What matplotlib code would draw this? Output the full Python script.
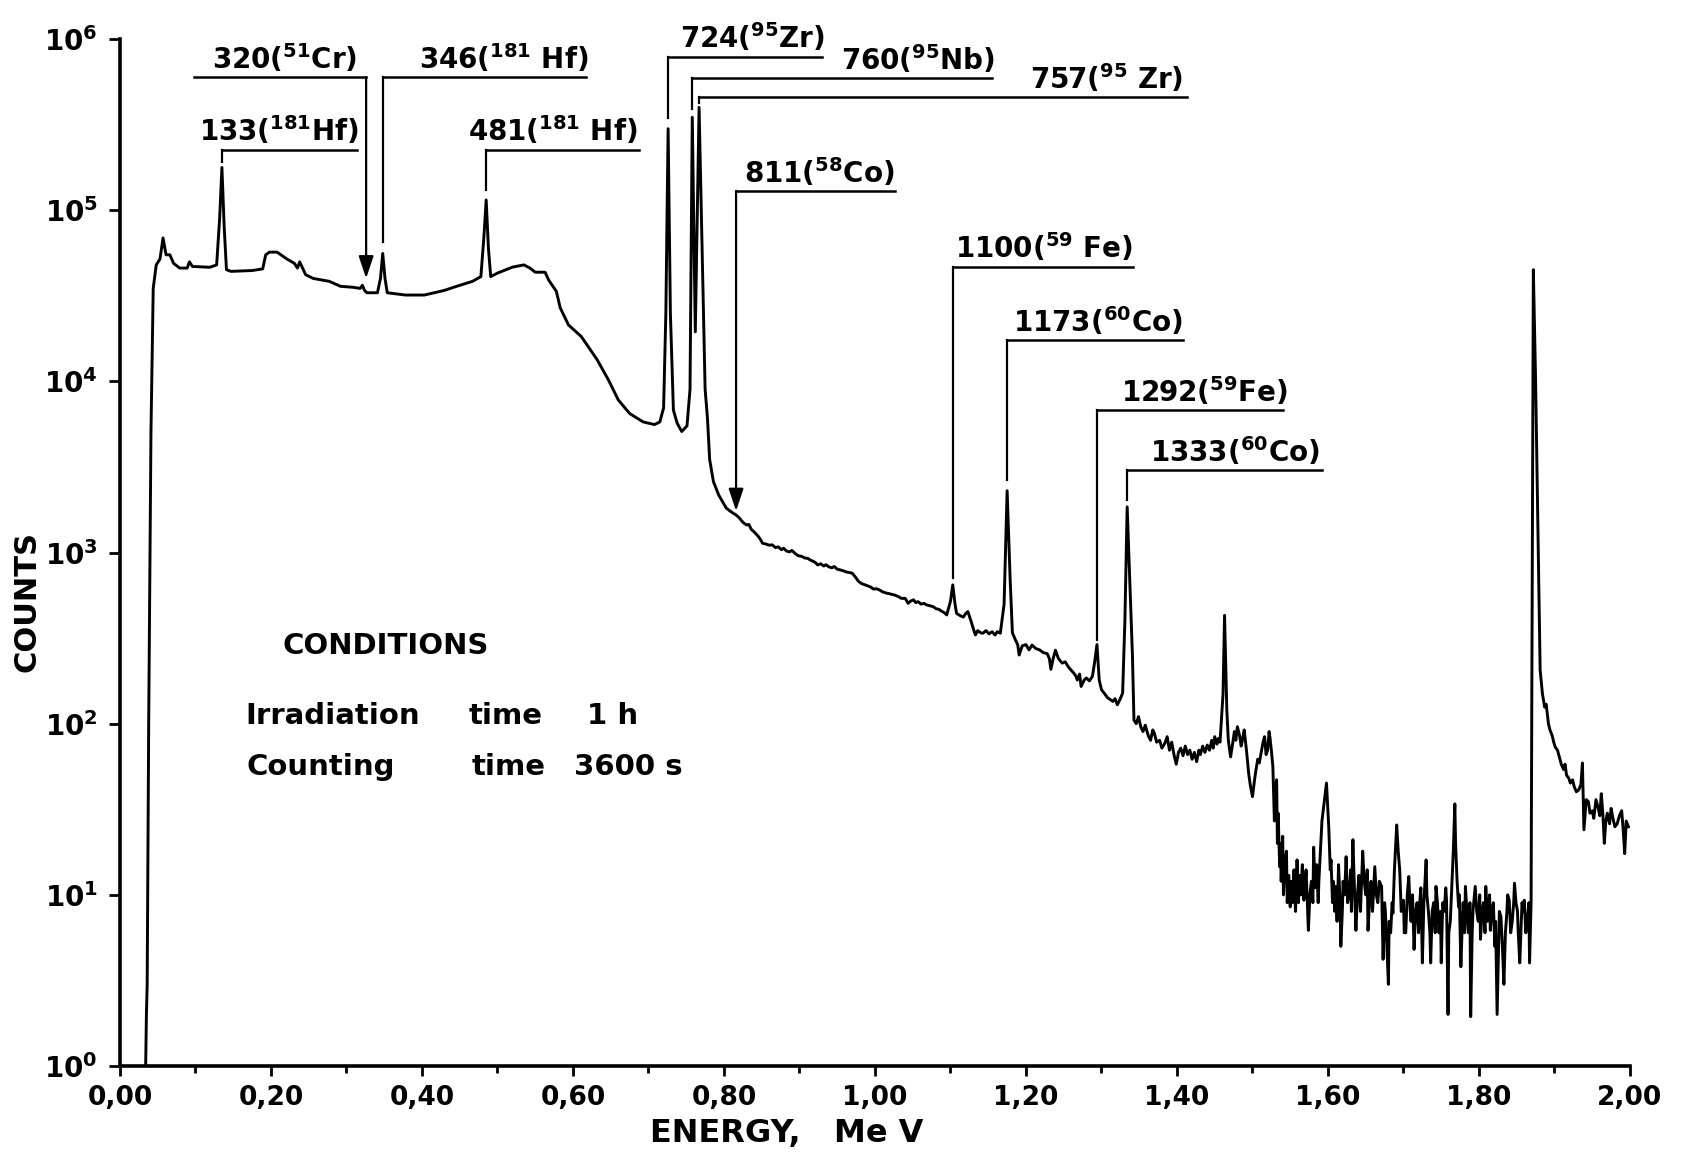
import matplotlib
matplotlib.use("Agg")
import matplotlib.pyplot as plt

plt.rcParams["font.family"] = "DejaVu Sans"
plt.rcParams["font.weight"] = "bold"
plt.rcParams["mathtext.fontset"] = "dejavusans"

# gamma spectrum (energy in MeV, counts per channel)
# 0.03 - 0.80 MeV
energy_low = [
    0.034, 0.035, 0.036, 0.038, 0.041, 0.044, 0.048, 0.053, 0.057, 0.061,
    0.066, 0.071, 0.079, 0.089, 0.092, 0.096, 0.119, 0.128, 0.132, 0.135,
    0.138, 0.141, 0.147, 0.175, 0.189, 0.193, 0.198, 0.208, 0.221, 0.231,
    0.235, 0.238, 0.246, 0.256, 0.277, 0.292, 0.309, 0.318, 0.321, 0.324,
    0.327, 0.341, 0.345, 0.348, 0.351, 0.354, 0.378, 0.403, 0.429, 0.446,
    0.467, 0.478, 0.482, 0.485, 0.488, 0.491, 0.500, 0.520, 0.535, 0.543,
    0.550, 0.563, 0.568, 0.578, 0.583, 0.594, 0.611, 0.632, 0.647, 0.660,
    0.675, 0.693, 0.708, 0.715, 0.720, 0.723, 0.726, 0.729, 0.733, 0.738,
    0.744, 0.751, 0.755, 0.758, 0.762, 0.767, 0.771, 0.775, 0.778, 0.781,
    0.786, 0.793,
]
counts_low = [
    1.0, 2.0, 3.0, 100, 5000, 35000, 48000, 52000, 69000, 55000,
    55000, 49000, 46000, 46000, 50000, 47000, 46500, 48000, 90000, 178000,
    80000, 45000, 44000, 44500, 45500, 55000, 57000, 57000, 52000, 49000,
    46000, 50000, 42000, 40000, 38500, 36000, 35500, 35000, 36500, 34000,
    33000, 33000, 40000, 56000, 40000, 33000, 32000, 32000, 34000, 36000,
    38500, 41000, 70000, 115000, 60000, 41000, 43000, 46600, 48000, 46000,
    43500, 43500, 39000, 33600, 27000, 21400, 18300, 13400, 10200, 7800,
    6500, 5800, 5600, 5800, 7000, 25000, 300000, 25000, 6800, 5700,
    5100, 5500, 9000, 350000, 19500, 400000, 60000, 9000, 6200, 3500,
    2600, 2170,
]

# 0.80 - 1.53 MeV
energy_mid = [
    0.803, 0.808, 0.812, 0.816, 0.820, 0.823, 0.826, 0.830, 0.833, 0.836,
    0.840, 0.845, 0.848, 0.851, 0.856, 0.860, 0.864, 0.868, 0.872, 0.876,
    0.879, 0.883, 0.887, 0.890, 0.894, 0.898, 0.903, 0.907, 0.911, 0.914,
    0.918, 0.921, 0.924, 0.928, 0.932, 0.935, 0.939, 0.943, 0.946, 0.950,
    0.955, 0.959, 0.962, 0.966, 0.970, 0.974, 0.978, 0.982, 0.986, 0.990,
    0.994, 0.998, 1.002, 1.006, 1.010, 1.015, 1.019, 1.022, 1.026, 1.031,
    1.035, 1.040, 1.044, 1.047, 1.051, 1.054, 1.057, 1.061, 1.065, 1.068,
    1.072, 1.077, 1.081, 1.085, 1.088, 1.092, 1.095, 1.100, 1.103, 1.106,
    1.108, 1.112, 1.117, 1.120, 1.123, 1.127, 1.130, 1.133, 1.136, 1.140,
    1.143, 1.147, 1.151, 1.155, 1.159, 1.162, 1.166, 1.171, 1.175, 1.179,
    1.182, 1.186, 1.189, 1.191, 1.195, 1.200, 1.204, 1.208, 1.213, 1.218,
    1.223, 1.228, 1.231, 1.233, 1.236, 1.239, 1.243, 1.248, 1.252, 1.256,
    1.260, 1.263, 1.266, 1.268, 1.271, 1.273, 1.277, 1.280, 1.284, 1.288,
    1.291, 1.294, 1.297, 1.300, 1.304, 1.308, 1.312, 1.315, 1.318, 1.321,
    1.325, 1.328, 1.331, 1.334, 1.338, 1.341, 1.343, 1.346, 1.349, 1.352,
    1.355, 1.358, 1.362, 1.365, 1.368, 1.370, 1.373, 1.377, 1.380, 1.384,
    1.387, 1.390, 1.393, 1.396, 1.399, 1.402, 1.405, 1.408, 1.411, 1.414,
    1.417, 1.420, 1.423, 1.426, 1.429, 1.431, 1.434, 1.437, 1.440, 1.443,
    1.446, 1.448, 1.450, 1.453, 1.455, 1.457, 1.461, 1.463, 1.466, 1.468,
    1.471, 1.474, 1.476, 1.478, 1.480, 1.483, 1.485, 1.487, 1.489, 1.492,
    1.495, 1.497, 1.500, 1.503, 1.505, 1.507, 1.509, 1.512, 1.514, 1.516,
    1.518, 1.520, 1.522, 1.523, 1.525, 1.527,
]
counts_mid = [
    1820, 1750, 1700, 1660, 1600, 1540, 1490, 1450, 1460, 1370,
    1320, 1250, 1200, 1135, 1120, 1105, 1110, 1070, 1080, 1040,
    1060, 1020, 1010, 1030, 990, 960, 950, 930, 925, 906,
    890, 875, 847, 860, 835, 850, 825, 815, 830, 800,
    790, 780, 770, 765, 757, 720, 680, 660, 650, 640,
    630, 612, 615, 605, 590, 580, 575, 570, 565, 553,
    540, 540, 505, 520, 530, 510, 517, 500, 505, 495,
    490, 483, 470, 465, 455, 445, 432, 520, 648, 500,
    442, 430, 420, 440, 452, 400, 362, 330, 350, 340,
    338, 350, 335, 345, 330, 345, 338, 500, 2300, 700,
    340, 309, 290, 252, 285, 290, 270, 288, 275, 270,
    260, 257, 240, 208, 240, 269, 240, 226, 230, 215,
    205, 198, 190, 180, 195, 165, 180, 185, 178, 189,
    230, 290, 180, 158, 150, 142, 138, 135, 140, 129,
    140, 151, 400, 1850, 600, 250, 105, 100, 110, 96,
    90, 98, 85, 80, 92, 88, 78, 80, 72, 77,
    84, 70, 78, 66, 58, 68, 72, 65, 74, 66,
    70, 62, 68, 60, 70, 66, 74, 68, 75, 70,
    80, 72, 84, 76, 82, 78, 150, 430, 120, 80,
    64, 78, 90, 80, 96, 85, 74, 82, 92, 70,
    51, 44, 37.5, 48, 55, 62, 59, 70, 78, 84,
    66, 70, 90, 84, 70, 56,
]

# 1.53 - 1.87 MeV (noisy floor)
energy_high = [
    1.529, 1.530, 1.532, 1.533, 1.534, 1.536, 1.537, 1.538, 1.540, 1.541,
    1.543, 1.545, 1.546, 1.548, 1.550, 1.551, 1.553, 1.555, 1.557, 1.559,
    1.561, 1.562, 1.564, 1.566, 1.568, 1.570, 1.571, 1.573, 1.574, 1.576,
    1.578, 1.580, 1.581, 1.583, 1.585, 1.587, 1.588, 1.590, 1.592, 1.595,
    1.598, 1.600, 1.601, 1.603, 1.604, 1.606, 1.607, 1.609, 1.610, 1.612,
    1.614, 1.616, 1.617, 1.619, 1.620, 1.622, 1.624, 1.626, 1.628, 1.630,
    1.631, 1.633, 1.635, 1.637, 1.639, 1.641, 1.643, 1.646, 1.648, 1.650,
    1.652, 1.653, 1.655, 1.657, 1.659, 1.662, 1.664, 1.666, 1.668, 1.671,
    1.672, 1.673, 1.675, 1.676, 1.678, 1.680, 1.681, 1.683, 1.685, 1.686,
    1.688, 1.691, 1.693, 1.695, 1.697, 1.700, 1.701, 1.703, 1.705, 1.707,
    1.709, 1.710, 1.712, 1.714, 1.716, 1.718, 1.720, 1.721, 1.723, 1.725,
    1.727, 1.730, 1.731, 1.733, 1.735, 1.736, 1.738, 1.740, 1.742, 1.743,
    1.745, 1.747, 1.749, 1.750, 1.752, 1.754, 1.756, 1.757, 1.759, 1.760,
    1.762, 1.764, 1.766, 1.768, 1.769, 1.771, 1.773, 1.774, 1.776, 1.778,
    1.779, 1.781, 1.782, 1.784, 1.786, 1.788, 1.789, 1.791, 1.792, 1.794,
    1.795, 1.797, 1.799, 1.801, 1.802, 1.804, 1.806, 1.808, 1.809, 1.811,
    1.812, 1.814, 1.815, 1.817, 1.819, 1.821, 1.822, 1.824, 1.826, 1.827,
    1.829, 1.831, 1.833, 1.835, 1.837, 1.838, 1.840, 1.842, 1.844, 1.846,
    1.847, 1.849, 1.851, 1.852, 1.854, 1.856, 1.857, 1.859, 1.860, 1.862,
    1.864, 1.866, 1.867, 1.869,
]
counts_high = [
    27, 40, 47, 20, 30, 14.6, 20, 12, 22, 10,
    16, 18, 9, 13, 8.5, 12, 9, 14, 8, 16,
    9, 13, 10, 15, 9.3, 12, 14, 8, 6.2, 10,
    12, 9, 19, 11, 15, 9, 12.2, 18, 27, 35,
    45, 30, 25, 14, 16, 9, 12, 8, 11.2, 7,
    15, 9, 5.0, 8, 12, 10, 16.7, 9, 10, 14,
    8, 21, 11, 6.2, 10, 13, 8, 18, 12, 10,
    14, 6.2, 9, 12, 8, 14.6, 10, 9, 12, 11.2,
    7, 4.2, 9, 8, 5, 3.0, 7, 6, 9, 7.8,
    14, 25.6, 18, 14, 8, 9.3, 6, 6, 10, 12.8,
    8, 7, 10, 4.8, 8, 9, 6, 8.5, 11, 4.0,
    9, 16, 10, 8, 6, 4.0, 8, 9, 6, 11.2,
    9, 6, 8, 4.0, 9, 8, 11, 9.3, 2.0, 6,
    7, 11.2, 18, 34, 20, 12, 8.5, 10, 3.8, 7,
    9, 6, 11.2, 8, 6, 9, 1.94, 6, 8, 10,
    11.2, 8, 7, 10, 5.5, 8, 9, 6, 11.2, 7,
    8, 10, 6.2, 8, 9, 5, 7, 2.0, 5, 8,
    7.5, 5, 3.0, 6, 8, 10, 9.3, 6, 7, 9,
    11.7, 9, 8, 6, 4.0, 7, 9, 8, 9.3, 6,
    7, 9, 4.0, 9,
]

# 1.87 - 2.00 MeV (last peak and tail)
energy_tail = [
    1.872, 1.875, 1.878, 1.881, 1.884, 1.887, 1.889, 1.892, 1.894, 1.897,
    1.899, 1.901, 1.904, 1.906, 1.909, 1.912, 1.914, 1.916, 1.919, 1.921,
    1.924, 1.926, 1.929, 1.932, 1.935, 1.937, 1.939, 1.942, 1.945, 1.947,
    1.950, 1.952, 1.955, 1.958, 1.960, 1.962, 1.964, 1.966, 1.968, 1.970,
    1.973, 1.975, 1.977, 1.980, 1.983, 1.986, 1.989, 1.991, 1.993, 1.995,
    1.998,
]
counts_tail = [
    45000, 10000, 1500, 206, 150, 125, 130, 100, 92, 85,
    78, 73, 70, 65, 58, 54, 58, 50, 48, 45,
    47, 43, 40, 41, 44, 59, 24, 36, 35, 30,
    31, 28, 36, 32, 29, 39, 30, 20, 27, 30,
    26, 32, 28.6, 25, 26, 29, 31, 24, 17.4, 27,
    25,
]

energy = energy_low + energy_mid + energy_high + energy_tail
counts = counts_low + counts_mid + counts_high + counts_tail

# peak labels
labels = [r"320($^{51}$Cr)", r"346($^{181}$ Hf)", r"133($^{181}$Hf)",
          r"481($^{181}$ Hf)", r"724($^{95}$Zr)", r"760($^{95}$Nb)",
          r"757($^{95}$ Zr)", r"811($^{58}$Co)", r"1100($^{59}$ Fe)",
          r"1173($^{60}$Co)", r"1292($^{59}$Fe)", r"1333($^{60}$Co)"]
stem_e = [0.326, 0.348, 0.135, 0.485, 0.726, 0.758, 0.767, 0.816, 1.103, 1.175, 1.294, 1.334]
bar_lo = [0.098, 0.348, 0.135, 0.485, 0.726, 0.758, 0.767, 0.816, 1.103, 1.175, 1.294, 1.334]
bar_hi = [0.326, 0.617, 0.314, 0.687, 0.930, 1.155, 1.413, 1.026, 1.342, 1.408, 1.540, 1.592]
bar_y = [6.0e5, 6.0e5, 2.26e5, 2.26e5, 7.9e5, 5.94e5, 4.6e5, 1.3e5, 4.68e4, 1.75e4, 6.82e3, 3.04e3]
stem_end = [4.0e4, 6.5e4, 1.92e5, 1.32e5, 3.47e5, 3.9e5, 4.25e5, 1750, 711, 2660, 310, 2030]
arrow = [True, False, False, False, False, False, False, True, False, False, False, False]
text_x = [0.314, 0.621, 0.317, 0.686, 0.934, 1.159, 1.408, 1.026, 1.342, 1.408, 1.547, 1.589]

x_ticks = [0.0, 0.2, 0.4, 0.6, 0.8, 1.0, 1.2, 1.4, 1.6, 1.8, 2.0]
x_minor = [0.1, 0.3, 0.5, 0.7, 0.9, 1.1, 1.3, 1.5, 1.7, 1.9]
y_ticks = [1, 10, 100, 1000, 10000, 100000, 1000000]

fig = plt.figure(figsize=(16.83, 11.54), dpi=100)
ax = fig.add_axes([0.0713, 0.0763, 0.8972, 0.8897])

ax.plot(energy, counts, color="k", lw=2.1)

ax.set_yscale("log")
ax.set_xlim(0, 2.0)
ax.set_ylim(1, 1e6)

for sp in ["top", "right"]:
    ax.spines[sp].set_visible(False)
for sp in ["left", "bottom"]:
    ax.spines[sp].set_linewidth(2.6)

ax.set_xticks(x_ticks)
ax.set_xticklabels([f"{v:.2f}".replace(".", ",") for v in x_ticks], fontsize=19, fontweight="bold")
ax.set_xticks(x_minor, minor=True)
ax.set_yticks(y_ticks)
ax.set_yticklabels([r"$\mathbf{10^{%d}}$" % k for k in range(len(y_ticks))], fontsize=20)
ax.yaxis.set_minor_locator(plt.NullLocator())
ax.tick_params(axis="x", which="major", length=7, width=2, pad=7)
ax.tick_params(axis="x", which="minor", length=5, width=2)
ax.tick_params(axis="y", which="major", length=8, width=2, pad=8)

for i in range(len(labels)):
    ax.plot([bar_lo[i], bar_hi[i]], [bar_y[i], bar_y[i]], color="k", lw=1.8)
    if arrow[i]:
        ax.annotate("", xy=(stem_e[i], stem_end[i]), xytext=(stem_e[i], bar_y[i]),
                    arrowprops=dict(arrowstyle="-|>,head_length=0.9,head_width=0.3",
                                    color="k", lw=1.6, shrinkA=0, shrinkB=0,
                                    mutation_scale=15))
    else:
        ax.plot([stem_e[i], stem_e[i]], [bar_y[i], stem_end[i]], color="k", lw=1.6)
    ax.annotate(labels[i], xy=(text_x[i], bar_y[i]), xytext=(0, 6),
                textcoords="offset points", ha="right", va="baseline",
                fontsize=20, fontweight="bold")

ax.text(0.2146, 285, "CONDITIONS", fontsize=21, fontweight="bold", va="center")
ax.text(0.166, 111, "Irradiation", fontsize=21, fontweight="bold", va="center")
ax.text(0.462, 111, "time", fontsize=21, fontweight="bold", va="center")
ax.text(0.619, 111, "1 h", fontsize=21, fontweight="bold", va="center")
ax.text(0.168, 56, "Counting", fontsize=21, fontweight="bold", va="center")
ax.text(0.466, 56, "time", fontsize=21, fontweight="bold", va="center")
ax.text(0.601, 56, "3600 s", fontsize=21, fontweight="bold", va="center")

fig.text(0.016, 0.479, "COUNTS", rotation=90, ha="center", va="center",
         fontsize=22, fontweight="bold")
fig.text(0.4677, 0.018, "ENERGY,   Me V", ha="center", va="center",
         fontsize=23, fontweight="bold")

fig.savefig("out.png", dpi=100)
